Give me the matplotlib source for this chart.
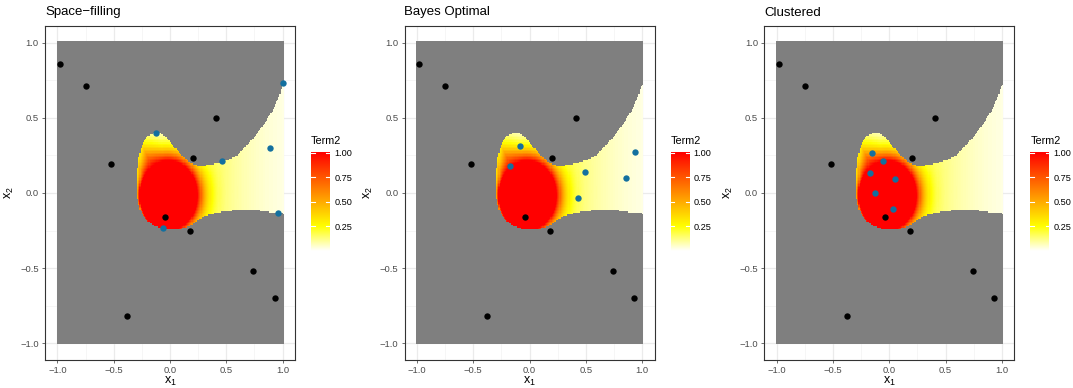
import numpy as np
import matplotlib
matplotlib.use("Agg")
import matplotlib.pyplot as plt
from matplotlib.colors import LinearSegmentedColormap
from matplotlib.path import Path

plt.rcParams['font.family'] = ['Liberation Sans', 'DejaVu Sans']
plt.rcParams['mathtext.default'] = 'regular'

# ---------------- data ----------------
titles = ["Space\u2212filling", "Bayes Optimal", "Clustered"]

design_x = [-0.98, -0.75, 0.41, -0.52, 0.20, -0.04, 0.18, 0.74, 0.93, -0.38]
design_y = [0.86, 0.71, 0.50, 0.19, 0.235, -0.16, -0.25, -0.52, -0.695, -0.82]

new_x = [
    [-0.12, 0.46, 0.89, 1.00, 0.96, -0.065],
    [-0.08, -0.17, 0.49, 0.43, 0.86, 0.94],
    [-0.15, -0.06, -0.17, 0.055, -0.13, 0.03],
]
new_y = [
    [0.40, 0.21, 0.30, 0.73, -0.13, -0.235],
    [0.315, 0.18, 0.14, -0.03, 0.10, 0.275],
    [0.265, 0.21, 0.135, 0.09, 0.0, -0.105],
]

# boundary of the region where Term2 is defined
region_x = [-0.235, -0.20, -0.16, -0.12, -0.08, -0.05, -0.02, 0.04, 0.10, 0.15, 0.19, 0.24, 0.30,
            0.36, 0.44, 0.52, 0.58, 0.64, 0.72, 0.79, 0.86, 0.91, 0.96, 0.99, 1.05,
            1.05, 0.99, 0.92, 0.85, 0.75, 0.65, 0.55, 0.44, 0.36, 0.30, 0.26,
            0.21, 0.15, 0.08, 0.02, -0.04, -0.10, -0.16, -0.21, -0.25, -0.275, -0.29,
            -0.297, -0.297, -0.292, -0.283, -0.27, -0.255]
region_y = [0.345, 0.372, 0.39, 0.397, 0.39, 0.375, 0.35, 0.30, 0.25, 0.215, 0.19, 0.178, 0.178,
            0.185, 0.20, 0.22, 0.24, 0.287, 0.35, 0.418, 0.49, 0.55, 0.635, 0.71, 0.74,
            -0.145, -0.14, -0.135, -0.127, -0.115, -0.115, -0.12, -0.13, -0.145, -0.16, -0.175,
            -0.205, -0.23, -0.245, -0.25, -0.245, -0.235, -0.215, -0.185, -0.15, -0.10, -0.05,
            0.0, 0.08, 0.155, 0.22, 0.27, 0.31]

# saturated core of Term2 and its fall-off
core_center = (-0.02, -0.02)
core_axes = (0.255, 0.235)
falloff_angle = [-180, -120, -90, -30, 0, 60, 100, 125, 145, 165, 180]
falloff_rate = [5.0, 4.0, 2.5, 1.6, 1.6, 1.4, 1.2, 0.6, 1.3, 3.5, 5.0]
tail_level = 0.12      # value at x1 = 0.5 in the right-hand tail
tail_decay = 2.77

grid_n = 201
colors_stops = [(0.0, "white"), (0.25, "yellow"), (1.0, "red")]
legend_ticks = [0.25, 0.50, 0.75, 1.00]
axis_ticks = [-1.0, -0.5, 0.0, 0.5, 1.0]

# ---------------- field ----------------
g = np.linspace(-1, 1, grid_n)
X, Y = np.meshgrid(g, g)
dx = X - core_center[0]
dy = Y - core_center[1]
d2 = (dx / core_axes[0]) ** 2 + (dy / core_axes[1]) ** 2
theta = np.degrees(np.arctan2(dy, dx))
k = np.interp(theta, falloff_angle, falloff_rate)
core = np.exp(-k * (d2 - 1.0))
tail = tail_level * np.exp(-tail_decay * (X - 0.5)) / (1 + np.exp(-(X - 0.3) / 0.05))
V = np.clip(core + tail, 0, 1)
inside = Path(np.column_stack([region_x, region_y])).contains_points(
    np.column_stack([X.ravel(), Y.ravel()])).reshape(X.shape)
Vm = np.ma.masked_where(~inside, V)

cmap = LinearSegmentedColormap.from_list("term2", colors_stops)
cmap.set_bad("#7F7F7F")

# ---------------- figure ----------------
W, H = 1073, 388
fig = plt.figure(figsize=(W / 100, H / 100), dpi=100)
offsets = [0, 359.5, 719.3]
half = 1.0 / (grid_n - 1)
lim = 1.11

for i, off in enumerate(offsets):
    ax = fig.add_axes([(45 + off) / W, 1 - 360 / H, 250 / W, 334 / H])
    ax.imshow(Vm, extent=(-1 - half, 1 + half, -1 - half, 1 + half), origin="lower",
              cmap=cmap, vmin=0, vmax=1, interpolation="nearest", aspect="auto", zorder=1)
    ax.scatter(design_x, design_y, s=21, color="black", zorder=3, linewidths=0)
    ax.scatter(new_x[i], new_y[i], s=21, color="#13709F", zorder=3, linewidths=0)
    ax.set_xlim(-lim, lim)
    ax.set_ylim(-lim, lim)
    ax.set_xticks(axis_ticks)
    ax.set_yticks(axis_ticks)
    ax.set_xticklabels([f"{t:.1f}".replace("-", "\u2212") for t in axis_ticks])
    ax.set_yticklabels([f"{t:.1f}".replace("-", "\u2212") for t in axis_ticks])
    ax.set_xticks([-0.75, -0.25, 0.25, 0.75], minor=True)
    ax.set_yticks([-0.75, -0.25, 0.25, 0.75], minor=True)
    ax.set_axisbelow(True)
    ax.grid(True, which="major", color="#EBEBEB", lw=0.9)
    ax.grid(True, which="minor", color="#F3F3F3", lw=0.5)
    ax.tick_params(which="major", length=2.5, width=0.5, color="#333333",
                   labelsize=6.8, labelcolor="#4D4D4D", pad=2)
    ax.tick_params(which="minor", length=0)
    for sp in ax.spines.values():
        sp.set_color("#333333")
        sp.set_linewidth(0.8)
    ax.set_xlabel("$x_1$", fontsize=9, labelpad=0)
    ax.set_ylabel("$x_2$", fontsize=9, labelpad=3)
    fig.text((45 + off) / W, 1 - 12.5 / H, titles[i], fontsize=9.5, ha="left", va="center")

    # colour bar legend
    cax = fig.add_axes([(311 + off) / W, 1 - 251 / H, 19 / W, 99 / H])
    cax.imshow(np.linspace(0, 1, 256).reshape(-1, 1), extent=(0, 1, 0, 1), origin="lower",
               cmap=cmap, vmin=0, vmax=1, aspect="auto")
    cax.set_xlim(0, 1)
    cax.set_ylim(0, 1.01)
    cax.set_xticks([])
    cax.yaxis.tick_right()
    cax.set_yticks(legend_ticks)
    cax.set_yticklabels([f"{t:.2f}" for t in legend_ticks])
    cax.tick_params(length=0, labelsize=6.6, labelcolor="black", pad=3)
    for sp in cax.spines.values():
        sp.set_visible(False)
    for t in legend_ticks:
        cax.plot([0, 0.2], [t, t], color="white", lw=0.8)
        cax.plot([0.8, 1], [t, t], color="white", lw=0.8)
    fig.text((311 + off) / W, 1 - 141 / H, "Term2", fontsize=7.8, ha="left", va="center")

fig.savefig("out.png", dpi=100)
